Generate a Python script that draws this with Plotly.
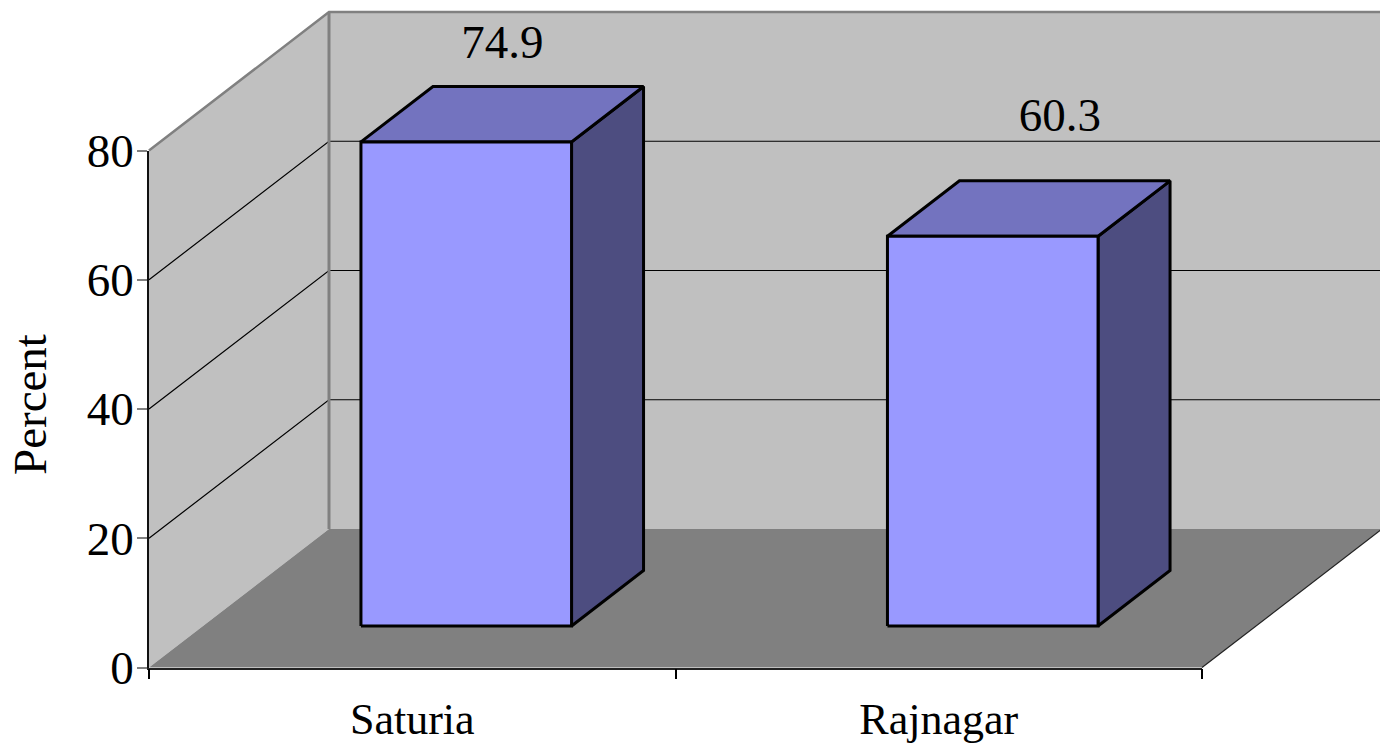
import plotly.graph_objects as go

# Chart data
categories = ["Saturia", "Rajnagar"]
percent_values = [74.9, 60.3]
value_labels = ["74.9", "60.3"]
y_ticks = [0, 20, 40, 60, 80]
axis_title = "Percent"

# Page geometry of the front plane, in pixels
PAGE_W, PAGE_H = 1380, 748
LEFT, RIGHT = 149, 1202
ZERO_Y, TOP_Y = 667.5, 150.5
DEPTH_DX, DEPTH_DY = 180, 138.5  # shift of the back wall
Y_MAX = 80
FONT = "Liberation Serif"

px_per_cat = (RIGHT - LEFT) / len(categories)
px_per_val = (ZERO_Y - TOP_Y) / Y_MAX

# Colours
WALL, FLOOR, FRAME = "#c0c0c0", "#808080", "#808080"
BAR_FRONT, BAR_TOP, BAR_SIDE = "#9999ff", "#7373bf", "#4d4d80"


def project(cat, val, depth=0.0):
    """Oblique projection of (category, value, depth) onto the flat data plane."""
    return (cat + depth * DEPTH_DX / px_per_cat, val + depth * DEPTH_DY / px_per_val)


def poly(points, fill, line_color=None, line_width=0):
    pts = [project(*p) for p in points]
    pts.append(pts[0])
    return go.Scatter(
        x=[p[0] for p in pts], y=[p[1] for p in pts], mode="lines",
        fill="toself", fillcolor=fill,
        line=dict(color=line_color or fill, width=line_width if line_color else 0),
        hoverinfo="skip", showlegend=False,
    )


def path(points, color, width):
    pts = [project(*p) for p in points]
    return go.Scatter(
        x=[p[0] for p in pts], y=[p[1] for p in pts], mode="lines",
        line=dict(color=color, width=width), hoverinfo="skip", showlegend=False,
    )


cat_lo, cat_hi = -0.5, len(categories) - 0.5
fig = go.Figure()

# Walls and floor
fig.add_trace(poly([(cat_lo, 0, 1), (cat_hi, 0, 1), (cat_hi, Y_MAX, 1), (cat_lo, Y_MAX, 1)], WALL))
fig.add_trace(poly([(cat_lo, 0, 0), (cat_lo, 0, 1), (cat_lo, Y_MAX, 1), (cat_lo, Y_MAX, 0)], WALL))
fig.add_trace(poly([(cat_lo, 0, 0), (cat_hi, 0, 0), (cat_hi, 0, 1), (cat_lo, 0, 1)], FLOOR))

# Gridlines on the side wall and the back wall
for v in y_ticks[1:-1]:
    fig.add_trace(path([(cat_lo, v, 0), (cat_lo, v, 1), (cat_hi, v, 1)], "#000000", 1.2))

# Wall frame
fig.add_trace(path([(cat_lo, Y_MAX, 0), (cat_lo, Y_MAX, 1), (cat_hi, Y_MAX, 1)], FRAME, 2.5))
fig.add_trace(path([(cat_lo, 0, 1), (cat_lo, Y_MAX, 1)], FRAME, 3))
fig.add_trace(path([(cat_hi, 0, 0), (cat_hi, 0, 1)], "#222222", 1.2))

# Bars
half_w, d0, d1 = 0.2, 0.3, 0.7
for i, v in enumerate(percent_values):
    a, b = i - half_w, i + half_w
    fig.add_trace(poly([(b, 0, d0), (b, 0, d1), (b, v, d1), (b, v, d0)], BAR_SIDE, "#000000", 3))
    fig.add_trace(poly([(a, v, d0), (b, v, d0), (b, v, d1), (a, v, d1)], BAR_TOP, "#000000", 3))
    fig.add_trace(poly([(a, 0, d0), (b, 0, d0), (b, v, d0), (a, v, d0)], BAR_FRONT, "#000000", 3))

# Value labels, lifted clear of the bar tops
label_lift = [10.5, 13.8]
label_shift = [0.0, 0.059]
label_pts = [project(i + label_shift[i], v + label_lift[i], 0.5) for i, v in enumerate(percent_values)]
fig.add_trace(go.Scatter(
    x=[p[0] for p in label_pts], y=[p[1] for p in label_pts], text=value_labels,
    mode="text", textposition="middle center",
    textfont=dict(family=FONT, size=47, color="#000000"),
    hoverinfo="skip", showlegend=False,
))

# Visible axes sit in a second subplot above the filled planes
fig.add_trace(go.Scatter(
    x=categories, y=percent_values, mode="markers", marker=dict(opacity=0),
    xaxis="x2", yaxis="y2", hoverinfo="skip", showlegend=False,
))

fig.update_layout(
    width=PAGE_W, height=PAGE_H, autosize=False,
    margin=dict(l=0, r=0, t=0, b=0),
    paper_bgcolor="#ffffff", plot_bgcolor="rgba(0,0,0,0)",
    showlegend=False,
    font=dict(family=FONT, color="#000000"),
    xaxis=dict(
        domain=[0, 1], visible=False, fixedrange=True, automargin=False,
        range=[cat_lo - LEFT / px_per_cat, cat_lo + (PAGE_W - LEFT) / px_per_cat],
    ),
    yaxis=dict(
        domain=[0, 1], visible=False, fixedrange=True, automargin=False,
        range=[-(PAGE_H - ZERO_Y) / px_per_val, ZERO_Y / px_per_val],
    ),
    xaxis2=dict(
        domain=[LEFT / PAGE_W, RIGHT / PAGE_W], anchor="y2", automargin=False,
        type="category", categoryorder="array", categoryarray=categories,
        range=[cat_lo, cat_hi], tickson="boundaries",
        ticks="outside", ticklen=10, tickwidth=1.5, tickcolor="#000000",
        showline=True, linecolor="#222222", linewidth=1.5, showgrid=False,
        tickfont=dict(family=FONT, size=44, color="#000000"), ticklabelstandoff=12,
    ),
    yaxis2=dict(
        domain=[(PAGE_H - ZERO_Y) / PAGE_H, (PAGE_H - TOP_Y) / PAGE_H], anchor="x2", automargin=False,
        range=[0, Y_MAX], tickvals=y_ticks,
        ticks="outside", ticklen=10, tickwidth=1.5, tickcolor=FRAME,
        showline=True, linecolor="#111111", linewidth=1.5, showgrid=False, zeroline=False,
        tickfont=dict(family=FONT, size=47, color="#000000"), ticklabelstandoff=-6,
    ),
    annotations=[dict(
        text=axis_title, textangle=-90, xref="paper", yref="paper",
        x=30 / PAGE_W, y=1 - 405 / PAGE_H, xanchor="center", yanchor="middle",
        showarrow=False, font=dict(family=FONT, size=47, color="#000000"),
    )],
)

fig.write_html("out.html")
